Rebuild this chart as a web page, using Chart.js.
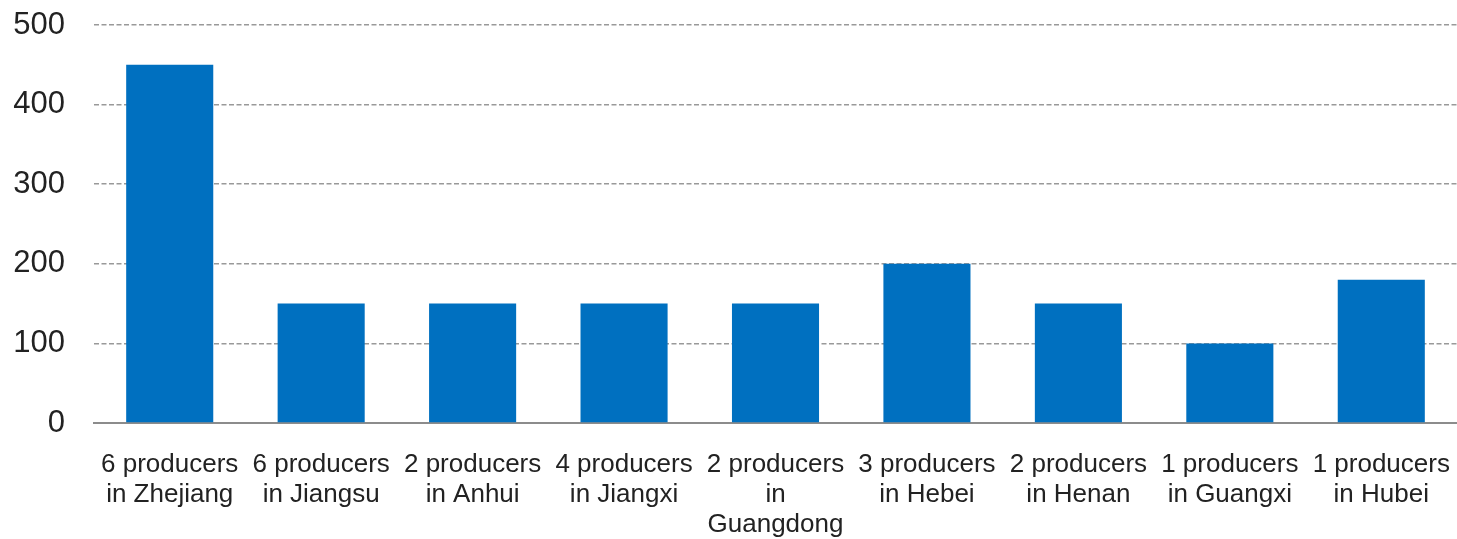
<!DOCTYPE html>
<html>
<head>
<meta charset="utf-8">
<script src="https://cdn.jsdelivr.net/npm/chart.js@4.4.0/dist/chart.umd.min.js"></script>
<style>
  html, body { margin: 0; padding: 0; background: #fff; }
  #wrap { width: 1457px; height: 539px; position: relative; }
</style>
</head>
<body>
<div id="wrap"><canvas id="myChart"></canvas></div>
<script>
// producers grouped by province
var regions = [
    ['6 producers', 'in Zhejiang'],
    ['6 producers', 'in Jiangsu'],
    ['2 producers', 'in Anhui'],
    ['4 producers', 'in Jiangxi'],
    ['2 producers', 'in', 'Guangdong'],
    ['3 producers', 'in Hebei'],
    ['2 producers', 'in Henan'],
    ['1 producers', 'in Guangxi'],
    ['1 producers', 'in Hubei']
];
var capacity = [450, 150, 150, 150, 150, 200, 150, 100, 180];
var yTicks = [0, 100, 200, 300, 400, 500];

var ctx = document.getElementById('myChart').getContext('2d');
var myChart = new Chart(ctx, {
    type: 'bar',
    data: {
        labels: regions,
        datasets: [{
            data: capacity,
            backgroundColor: '#0070c0',
            borderWidth: 0,
            barPercentage: 0.575,
            categoryPercentage: 1
        }]
    },
    options: {
        responsive: true,
        maintainAspectRatio: false,
        animation: false,
        layout: { padding: { top: 25, right: 0, left: 0, bottom: 0 } },
        plugins: { legend: { display: false }, tooltip: { enabled: false } },
        scales: {
            x: {
                // tickLength gives the gap under the axis, marks themselves are hidden
                grid: { display: false, drawTicks: true, tickLength: 25 },
                border: { display: true, color: '#8c8c8c', width: 2 },
                ticks: {
                    color: '#222',
                    padding: 2,
                    maxRotation: 0,
                    autoSkip: false,
                    font: { family: 'Liberation Sans, Arial, sans-serif', size: 26, lineHeight: 1.154 }
                },
                afterFit: function (scale) { scale.height = 116; }
            },
            y: {
                min: 0,
                max: 500,
                afterBuildTicks: function (scale) {
                    scale.ticks = yTicks.map(function (v) { return { value: v }; });
                },
                grid: { color: '#999', lineWidth: 1.5, drawTicks: true, tickLength: 27, tickColor: 'rgba(0,0,0,0)' },
                border: { display: false, dash: [5, 2.5] },
                ticks: {
                    color: '#222',
                    padding: 2,
                    font: { family: 'Liberation Sans, Arial, sans-serif', size: 31 }
                },
                afterFit: function (scale) { scale.width = 94; }
            }
        }
    }
});
</script>
</body>
</html>
